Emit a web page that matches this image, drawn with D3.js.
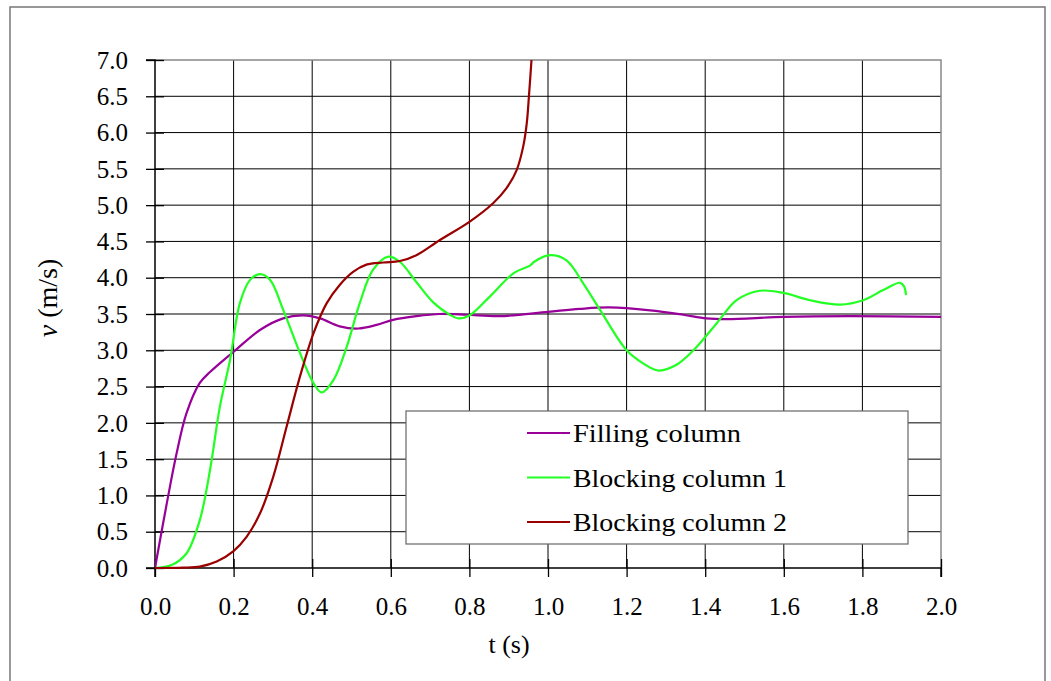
<!DOCTYPE html>
<html><head><meta charset="utf-8">
<script src="https://cdn.jsdelivr.net/npm/d3@7"></script>
<style>
html,body{margin:0;padding:0;background:#fff;}
</style></head>
<body>
<svg id="chart" width="1051" height="681"></svg>
<script>
// ---- data ----
const xTicks = [0, 0.2, 0.4, 0.6, 0.8, 1.0, 1.2, 1.4, 1.6, 1.8, 2.0];
const yTicks = [0, 0.5, 1, 1.5, 2, 2.5, 3, 3.5, 4, 4.5, 5, 5.5, 6, 6.5, 7];
const seriesNames = ["Filling column", "Blocking column 1", "Blocking column 2"];
const seriesColors = ["#990099", "#22ff22", "#990000"];

const fillT = [0,0.03,0.055,0.08,0.114,0.14,0.2,0.267,0.326,0.377,0.42,0.47,0.517,0.564,0.606,0.665,0.725,0.793,0.877,1.0,1.08,1.157,1.26,1.344,1.403,1.455,1.6,1.77,2.0];
const fillV = [0,0.89,1.58,2.13,2.55,2.70,2.98,3.28,3.44,3.48,3.44,3.33,3.30,3.35,3.42,3.47,3.50,3.49,3.47,3.53,3.57,3.59,3.55,3.49,3.44,3.43,3.46,3.47,3.46];

const block1T = [0,0.042,0.08,0.114,0.14,0.165,0.191,0.216,0.242,0.267,0.293,0.326,0.369,0.403,0.424,0.454,0.488,0.521,0.555,0.594,0.623,0.665,0.708,0.75,0.772,0.80,0.852,0.912,0.955,0.965,1.005,1.047,1.09,1.132,1.2,1.242,1.281,1.327,1.37,1.429,1.48,1.539,1.599,1.667,1.743,1.802,1.853,1.896,1.906,1.911];
const block1V = [0,0.04,0.20,0.66,1.35,2.22,2.87,3.65,3.97,4.05,3.97,3.56,2.96,2.55,2.42,2.59,3.05,3.65,4.11,4.29,4.22,3.94,3.66,3.49,3.44,3.48,3.74,4.06,4.17,4.22,4.31,4.24,3.92,3.56,3.00,2.82,2.72,2.80,3.00,3.37,3.69,3.82,3.79,3.69,3.63,3.69,3.83,3.93,3.88,3.76];

const block2T = [0,0.072,0.114,0.157,0.199,0.233,0.267,0.301,0.335,0.369,0.403,0.437,0.47,0.504,0.538,0.581,0.623,0.665,0.725,0.80,0.861,0.894,0.92,0.937,0.946,0.952,0.958];
const block2V = [0,0.005,0.02,0.09,0.23,0.43,0.75,1.26,1.95,2.64,3.23,3.65,3.90,4.08,4.18,4.21,4.23,4.31,4.52,4.77,5.03,5.23,5.48,5.81,6.13,6.54,7.0];

// ---- layout ----
const FONT = "'Liberation Serif', 'Times New Roman', serif";
const svg = d3.select("#chart");
const L = 155, R = 941, T = 60, B = 568;
const x = d3.scaleLinear().domain([0, 2]).range([L, R]);
const y = d3.scaleLinear().domain([0, 7]).range([B, T]);

// outer frame
svg.append("rect").attr("x", 10).attr("y", 7).attr("width", 1035).attr("height", 700)
  .attr("fill", "none").attr("stroke", "#777").attr("stroke-width", 1.5);

// gridlines
const grid = svg.append("g");
grid.selectAll(".vg").data(xTicks.slice(1, -1)).enter().append("line")
  .attr("x1", d => x(d)).attr("x2", d => x(d)).attr("y1", T).attr("y2", B)
  .attr("stroke", "#000").attr("stroke-width", 1);
grid.selectAll(".hg").data(yTicks.slice(1, -1)).enter().append("line")
  .attr("x1", L).attr("x2", R).attr("y1", d => y(d)).attr("y2", d => y(d))
  .attr("stroke", "#000").attr("stroke-width", 1);

// plot border top/right
svg.append("path").attr("d", `M${L},${T}H${R}V${B}`).attr("fill", "none")
  .attr("stroke", "#888").attr("stroke-width", 1.5);

// axes
const xAxis = d3.axisBottom(x).tickValues(xTicks).tickSize(9).tickFormat(d3.format(".1f"));
const gx = svg.append("g").attr("transform", `translate(0,${B})`).call(xAxis);
gx.selectAll(".tick line").attr("y1", -9).attr("stroke", "#000").attr("stroke-width", 1.3);
gx.selectAll(".tick text").attr("font-size", 25).style("font-family", FONT).attr("fill", "#000")
  .attr("y", 47).attr("dy", 0);
gx.select(".domain").attr("stroke", "#000").attr("stroke-width", 1.5).attr("d", `M${L},9V0H${R}V9`);

const yAxis = d3.axisLeft(y).tickValues(yTicks).tickSize(9).tickFormat(d3.format(".1f"));
const gy = svg.append("g").attr("transform", `translate(${L},0)`).call(yAxis);
gy.selectAll(".tick line").attr("x2", 9).attr("x1", -9).attr("stroke", "#000").attr("stroke-width", 1.3);
gy.selectAll(".tick text").attr("font-size", 25).style("font-family", FONT).attr("fill", "#000")
  .attr("x", -27).attr("dy", "0.33em");
gy.select(".domain").attr("stroke", "#000").attr("stroke-width", 1.5).attr("d", `M-9,${B}H0V${T}H-9`);

// series
svg.append("clipPath").attr("id", "pc").append("rect")
  .attr("x", L).attr("y", T - 1).attr("width", R - L).attr("height", B - T + 2);
const line = d3.line().x(d => x(d[0])).y(d => y(d[1])).curve(d3.curveCatmullRom.alpha(0.5));
const series = [
  d3.zip(fillT, fillV),
  d3.zip(block1T, block1V),
  d3.zip(block2T, block2V)
];
svg.append("g").attr("clip-path", "url(#pc)").selectAll("path").data(series).enter().append("path")
  .attr("d", line).attr("fill", "none")
  .attr("stroke", (d, i) => seriesColors[i]).attr("stroke-width", 2.2)
  .attr("stroke-linejoin", "round");

// legend
const lg = svg.append("g");
lg.append("rect").attr("x", 406).attr("y", 411).attr("width", 502).attr("height", 133)
  .attr("fill", "#fff").attr("stroke", "#666").attr("stroke-width", 1.2);
const legW = [168, 214, 214];
seriesNames.forEach((n, i) => {
  const cy = 433 + i * 44.5;
  lg.append("line").attr("x1", 527).attr("x2", 570).attr("y1", cy).attr("y2", cy)
    .attr("stroke", seriesColors[i]).attr("stroke-width", 2.2);
  lg.append("text").attr("x", 573).attr("y", cy + 9).attr("font-size", 26).style("font-family", FONT)
    .attr("textLength", legW[i]).attr("lengthAdjust", "spacingAndGlyphs").text(n);
});

// axis titles
svg.append("text").attr("x", 509).attr("y", 653).attr("text-anchor", "middle")
  .attr("font-size", 26).style("font-family", FONT).text("t (s)");
const yt = svg.append("text").attr("transform", "translate(57,298) rotate(-90)")
  .attr("text-anchor", "middle").attr("font-size", 28).style("font-family", FONT);
yt.append("tspan").attr("font-style", "italic").text("v");
yt.append("tspan").text(" (m/s)");
</script>
</body></html>
